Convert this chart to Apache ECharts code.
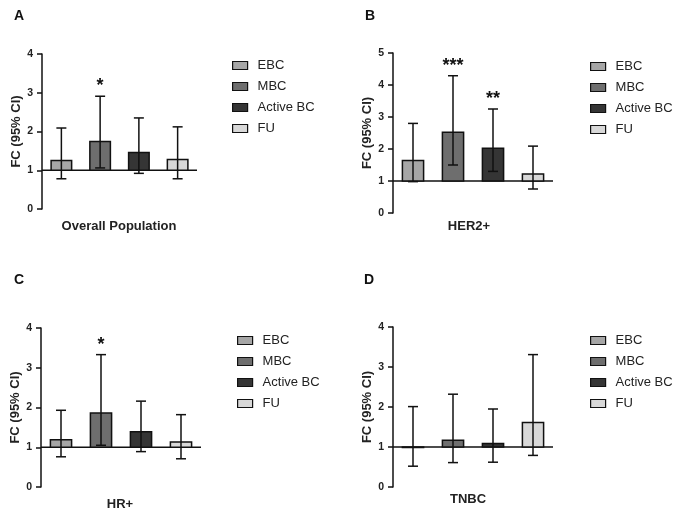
<!DOCTYPE html>
<html>
<head>
<meta charset="utf-8">
<script src="https://cdn.jsdelivr.net/npm/echarts@6/dist/echarts.min.js"></script>
<style>
html,body{margin:0;padding:0;background:#fff;}
#chart{width:685px;height:514px;}
</style>
</head>
<body>
<div id="chart"></div>
<script>
// ---- data ----
var groups = ['EBC', 'MBC', 'Active BC', 'FU'];
var panelTitles = ['Overall Population', 'HER2+', 'HR+', 'TNBC'];
var panelLetters = ['A', 'B', 'C', 'D'];
var yMaxes = [4, 5, 4, 4];

var overallFC    = [1.25, 1.74, 1.46, 1.28];
var overallLower = [0.78, 1.06, 0.92, 0.78];
var overallUpper = [2.09, 2.91, 2.35, 2.12];
var overallSig   = ['', '*', '', ''];

var her2FC    = [1.64, 2.52, 2.02, 1.22];
var her2Lower = [0.98, 1.50, 1.30, 0.75];
var her2Upper = [2.80, 4.29, 3.25, 2.09];
var her2Sig   = ['', '***', '**', ''];

var hrFC    = [1.19, 1.86, 1.39, 1.13];
var hrLower = [0.76, 1.05, 0.89, 0.71];
var hrUpper = [1.93, 3.33, 2.16, 1.82];
var hrSig   = ['', '*', '', ''];

var tnbcFC    = [0.99, 1.17, 1.09, 1.61];
var tnbcLower = [0.52, 0.61, 0.62, 0.79];
var tnbcUpper = [2.01, 2.32, 1.95, 3.31];
var tnbcSig   = ['', '', '', ''];

var baselineFC = 1;

// ---- styling / layout ----
var groupColors = ['#a6a6a6', '#6e6e6e', '#353535', '#d8d8d8'];
var ink = '#111';
var panels = [
  {fc: overallFC, lo: overallLower, hi: overallUpper, sig: overallSig},
  {fc: her2FC, lo: her2Lower, hi: her2Upper, sig: her2Sig},
  {fc: hrFC, lo: hrLower, hi: hrUpper, sig: hrSig},
  {fc: tnbcFC, lo: tnbcLower, hi: tnbcUpper, sig: tnbcSig}
];
var grids = [
  {left: 42, top: 54, width: 155, height: 155},
  {left: 393, top: 53, width: 160, height: 160},
  {left: 41, top: 328, width: 160, height: 159},
  {left: 393, top: 327, width: 160, height: 160}
];
var legendPos = [
  {left: 232, top: 59},
  {left: 590, top: 60},
  {left: 237, top: 334},
  {left: 590, top: 334}
];
var letterPos = [
  {left: 14, top: 9}, {left: 365, top: 9}, {left: 14, top: 273}, {left: 364, top: 273}
];
var catLabelPos = [
  {x: 119, top: 220}, {x: 469, top: 220}, {x: 120, top: 498}, {x: 468, top: 493}
];

function makeRender(p, k) {
  return function (params, api) {
    var d = panels[p];
    var base = api.coord([k, baselineFC]);
    var top = api.coord([k, d.fc[k]]);
    var pLo = api.coord([k, d.lo[k]]);
    var pHi = api.coord([k, d.hi[k]]);
    var band = api.size([1, 0])[0];
    var bw = band * 0.53;
    var cx = base[0];
    var cap = 5;
    var children = [];
    if (k === 0) {
      var cs = params.coordSys;
      children.push({type: 'line', z2: 0, shape: {x1: cs.x, y1: base[1], x2: cs.x + cs.width, y2: base[1]},
        style: {stroke: ink, lineWidth: 1.5}});
    }
    children.push({type: 'rect', z2: 1,
      shape: {x: cx - bw / 2, y: Math.min(base[1], top[1]), width: bw, height: Math.max(Math.abs(base[1] - top[1]), 0.5)},
      style: {fill: groupColors[k], stroke: ink, lineWidth: 1.5}});
    children.push({type: 'line', z2: 2, shape: {x1: cx, y1: pLo[1], x2: cx, y2: pHi[1]}, style: {stroke: ink, lineWidth: 1.5}});
    children.push({type: 'line', z2: 2, shape: {x1: cx - cap, y1: pLo[1], x2: cx + cap, y2: pLo[1]}, style: {stroke: ink, lineWidth: 1.5}});
    children.push({type: 'line', z2: 2, shape: {x1: cx - cap, y1: pHi[1], x2: cx + cap, y2: pHi[1]}, style: {stroke: ink, lineWidth: 1.5}});
    if (d.sig[k]) {
      children.push({type: 'text', z2: 3, x: cx, y: pHi[1] - 1,
        style: {text: d.sig[k], textAlign: 'center', textVerticalAlign: 'bottom',
          font: 'bold 18px "Liberation Sans", Arial, sans-serif', fill: ink}});
    }
    return {type: 'group', children: children};
  };
}

var option = {
  backgroundColor: '#fff',
  animation: false,
  textStyle: {fontFamily: '"Liberation Sans", Arial, sans-serif'},
  title: [],
  legend: [],
  grid: [],
  xAxis: [],
  yAxis: [],
  series: []
};

for (var p = 0; p < 4; p++) {
  option.grid.push(grids[p]);
  option.xAxis.push({
    type: 'category', gridIndex: p, data: groups,
    axisLine: {show: false}, axisTick: {show: false}, axisLabel: {show: false}, splitLine: {show: false}
  });
  option.yAxis.push({
    type: 'value', gridIndex: p, min: 0, max: yMaxes[p], interval: 1,
    name: 'FC (95% CI)', nameLocation: 'middle', nameGap: 17,
    nameTextStyle: {fontWeight: 'bold', fontSize: 13, color: '#222'},
    axisLine: {show: true, lineStyle: {color: ink, width: 1.5}},
    axisTick: {show: true, length: 5, lineStyle: {color: ink, width: 1.5}},
    axisLabel: {fontWeight: 'bold', fontSize: 10.5, color: '#222', margin: 9},
    splitLine: {show: false}
  });
  option.title.push({
    text: panelLetters[p], left: letterPos[p].left, top: letterPos[p].top, padding: 0,
    textStyle: {fontWeight: 'bold', fontSize: 14, color: '#111'}
  });
  option.title.push({
    text: panelTitles[p], left: catLabelPos[p].x, top: catLabelPos[p].top, textAlign: 'center', padding: 0,
    textStyle: {fontWeight: 'bold', fontSize: 13, color: '#222'}
  });
  option.legend.push({
    orient: 'vertical', left: legendPos[p].left, top: legendPos[p].top, padding: 0,
    itemWidth: 15, itemHeight: 8, itemGap: 8, icon: 'rect',
    itemStyle: {borderColor: ink, borderWidth: 1.2},
    textStyle: {fontSize: 13, color: '#222', padding: [0, 0, 0, 5]},
    selectedMode: false,
    data: groups.map(function (g, i) {
      return {name: g, itemStyle: {color: groupColors[i], borderColor: ink, borderWidth: 1.2}};
    })
  });
  for (var k = 0; k < 4; k++) {
    option.series.push({
      type: 'custom', name: groups[k], xAxisIndex: p, yAxisIndex: p,
      itemStyle: {color: groupColors[k]},
      renderItem: makeRender(p, k),
      encode: {x: 0, y: 1},
      data: [[k, panels[p].fc[k], panels[p].lo[k], panels[p].hi[k]]],
      clip: false
    });
  }
}

var chart = echarts.init(document.getElementById('chart'), null, {renderer: 'canvas'});
chart.setOption(option);
</script>
</body>
</html>
